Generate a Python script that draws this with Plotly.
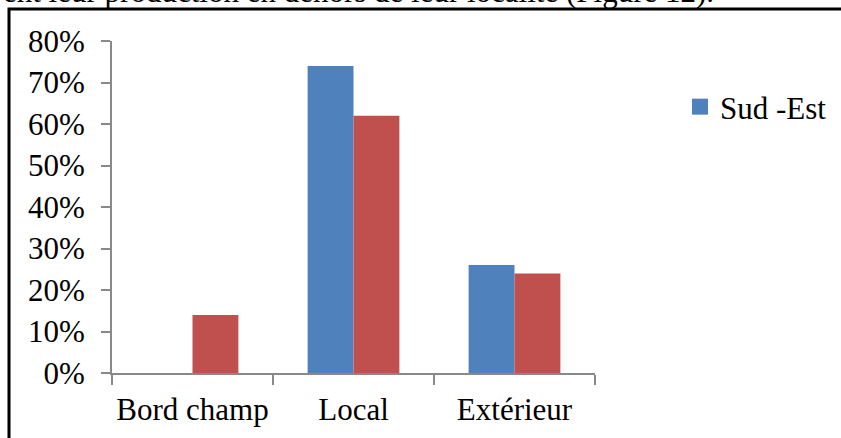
import plotly.graph_objects as go

categories = ["Bord champ", "Local", "Extérieur"]
sud_est = [0.0, 0.74, 0.26]
autre = [0.14, 0.62, 0.24]
y_ticks = [0, 0.1, 0.2, 0.3, 0.4, 0.5, 0.6, 0.7, 0.8]
y_tick_labels = ["0%", "10%", "20%", "30%", "40%", "50%", "60%", "70%", "80%"]
series_name = "Sud -Est"
caption = "ent leur production en dehors de leur localité (Figure 12)."

BLUE = "#4F81BD"
RED = "#C0504D"
FONT = "Liberation Serif, Times New Roman, serif"

W, H = 841, 438
L, R, T, B = 112, 246, 41, 65
pw, ph = W - L - R, H - T - B

def px_x(px):
    return (px - L) / pw

def px_y(py):
    return (H - B - py) / ph

fig = go.Figure()
fig.add_trace(go.Bar(x=categories, y=sud_est, marker_color=BLUE, name=series_name,
                     showlegend=False, marker_line_width=0))
fig.add_trace(go.Bar(x=categories, y=autre, marker_color=RED, name="",
                     showlegend=False, marker_line_width=0))
# legend entry (square marker)
fig.add_trace(go.Scatter(x=[None], y=[None], mode="markers", name=series_name,
                         marker=dict(symbol="square", size=16, color=BLUE)))

fig.update_layout(
    width=W, height=H,
    margin=dict(l=L, r=R, t=T, b=B, pad=0, autoexpand=False),
    paper_bgcolor="white", plot_bgcolor="white",
    barmode="group", bargap=0.43, bargroupgap=0,
    font=dict(family=FONT, size=31, color="black"),
    showlegend=True,
    legend=dict(x=px_x(680), y=px_y(107), xanchor="left", yanchor="middle",
                font=dict(family=FONT, size=31, color="black"),
                bgcolor="rgba(0,0,0,0)", itemwidth=30, tracegroupgap=0),
    xaxis=dict(showgrid=False, zeroline=False, showline=True, linecolor="#898989",
               linewidth=2, ticks="outside", tickson="boundaries", ticklen=10,
               tickcolor="#898989", tickwidth=2, fixedrange=True,
               ticklabelstandoff=8, tickangle=0, automargin=False,
               tickfont=dict(family=FONT, size=31, color="black")),
    yaxis=dict(range=[0, 0.8], tickvals=y_ticks, ticktext=y_tick_labels,
               showgrid=False, zeroline=False, showline=True, linecolor="#898989",
               linewidth=2, ticks="outside", ticklen=9, tickcolor="#898989",
               tickwidth=2, fixedrange=True, ticklabelstandoff=10, automargin=False,
               tickfont=dict(family=FONT, size=31, color="black")),
)

# frame around the chart (extends beyond visible area at right and bottom)
fig.add_shape(type="rect", xref="paper", yref="paper",
              x0=px_x(9), x1=px_x(900), y0=px_y(500), y1=px_y(9),
              line=dict(color="black", width=3), fillcolor="rgba(0,0,0,0)", layer="above")

fig.add_annotation(text=caption, xref="paper", yref="paper",
                   x=px_x(716), y=px_y(-8), xanchor="right", yanchor="middle",
                   showarrow=False, font=dict(family=FONT, size=31, color="black"))

fig.write_html("out.html", config={"displayModeBar": False},
               post_script="document.body.style.margin='0';document.body.style.overflow='hidden';")
